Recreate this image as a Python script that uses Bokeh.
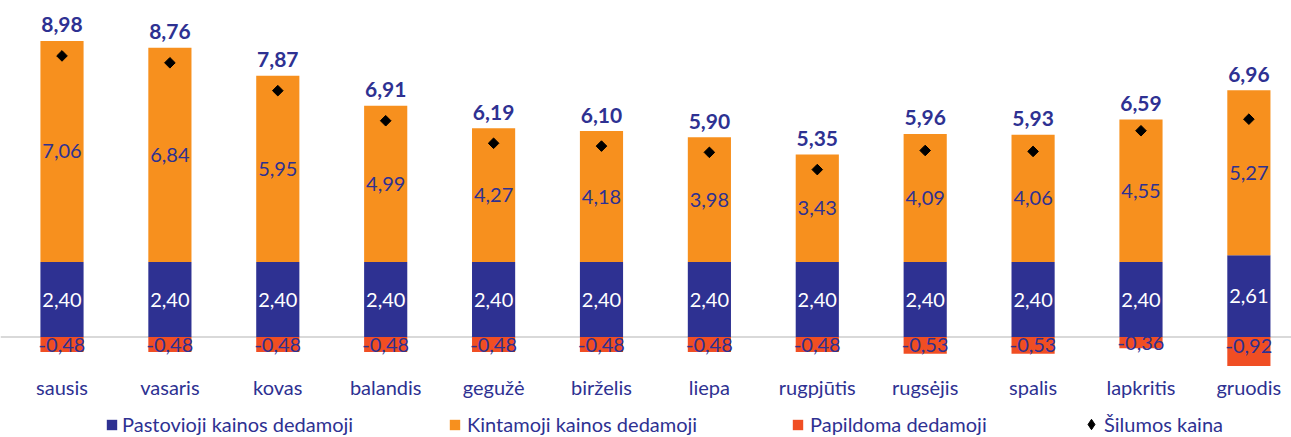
from bokeh.plotting import figure
from bokeh.models import (ColumnDataSource, Range1d, FixedTicker, Span, Legend, LegendItem)
from bokeh.layouts import column
from bokeh.core.properties import value
from bokeh.embed import file_html
from bokeh.resources import INLINE
import math

months = ["sausis", "vasaris", "kovas", "balandis", "gegužė", "birželis",
          "liepa", "rugpjūtis", "rugsėjis", "spalis", "lapkritis", "gruodis"]
pastovioji = [2.40, 2.40, 2.40, 2.40, 2.40, 2.40, 2.40, 2.40, 2.40, 2.40, 2.40, 2.61]
kintamoji = [7.06, 6.84, 5.95, 4.99, 4.27, 4.18, 3.98, 3.43, 4.09, 4.06, 4.55, 5.27]
papildoma = [-0.48, -0.48, -0.48, -0.48, -0.48, -0.48, -0.48, -0.48, -0.53, -0.53, -0.36, -0.92]
kaina = [8.98, 8.76, 7.87, 6.91, 6.19, 6.10, 5.90, 5.35, 5.96, 5.93, 6.59, 6.96]
series_names = ["Pastovioji kainos dedamoji", "Kintamoji kainos dedamoji",
                "Papildoma dedamoji", "Šilumos kaina"]

BLUE = "#2E3192"
ORANGE = "#F7901E"
RED = "#F04E23"
FONT = "Lato"

def fmt(v):
    return f"{v:.2f}".replace(".", ",")

x = list(range(len(months)))
top_stack = [a + b for a, b in zip(pastovioji, kintamoji)]
src = ColumnDataSource(dict(
    x=x,
    zero=[0.0] * len(x),
    past=pastovioji,
    kin_top=top_stack,
    pap=papildoma,
    kaina=kaina,
    past_mid=[v / 2 for v in pastovioji],
    kin_mid=[a + b / 2 for a, b in zip(pastovioji, kintamoji)],
    pap_mid=[max(v / 2, -0.3) for v in papildoma],
    past_lbl=[fmt(v) for v in pastovioji],
    kin_lbl=[fmt(v) for v in kintamoji],
    pap_lbl=[fmt(v) for v in papildoma],
    kaina_lbl=[fmt(v) for v in kaina],
))

W = 1291
H1 = 401
H2 = 437 - H1

p = figure(width=W, height=H1, output_backend="svg", toolbar_location=None,
           x_range=Range1d(-0.570, 11.395), y_range=Range1d(-1.003, 10.75),
           y_axis_location=None, min_border_left=0, min_border_right=0,
           min_border_top=0, min_border_bottom=H1 - 369)
p.outline_line_color = None
p.xgrid.visible = False
p.ygrid.visible = False

zero = Span(location=0, dimension="width", line_color="#D9D9D9", line_width=2, level="underlay")
p.add_layout(zero)

bw = 0.4
p.vbar(x="x", bottom="zero", top="past", width=bw, source=src,
       fill_color=BLUE, line_color=None)
p.vbar(x="x", bottom="past", top="kin_top", width=bw, source=src,
       fill_color=ORANGE, line_color=None)
p.vbar(x="x", bottom="zero", top="pap", width=bw, source=src,
       fill_color=RED, line_color=None)
p.scatter(x="x", y="kaina", source=src, marker="square", size=7.5,
          angle=math.pi / 4, fill_color="black", line_color="black")

p.text(x="x", y="past_mid", text="past_lbl", source=src, text_align="center",
       text_baseline="middle", text_color="white", text_font=value(FONT),
       text_font_size="20px")
p.text(x="x", y="kin_mid", text="kin_lbl", source=src, text_align="center",
       text_baseline="middle", text_color=BLUE, text_font=value(FONT),
       text_font_size="20px")
p.text(x="x", y="pap_mid", text="pap_lbl", source=src, text_align="center",
       text_baseline="middle", text_color=BLUE, text_font=value(FONT),
       text_font_size="20px")
p.text(x="x", y="kin_top", text="kaina_lbl", source=src, text_align="center",
       text_baseline="alphabetic", y_offset=-16, text_color=BLUE,
       text_font=value(FONT), text_font_size="21px", text_font_style="bold")

ax = p.xaxis[0]
ax.ticker = FixedTicker(ticks=x)
ax.major_label_overrides = {i: m for i, m in enumerate(months)}
ax.axis_line_color = None
ax.major_tick_line_color = None
ax.minor_tick_line_color = None
ax.major_label_text_font = FONT
ax.major_label_text_font_size = "20px"
ax.major_label_text_color = BLUE
ax.major_label_standoff = 0

# legend strip (renderers share the data but lie outside this strip's ranges)
p2 = figure(width=W, height=H2, output_backend="svg", toolbar_location=None,
            x_range=Range1d(-100, -99), y_range=Range1d(-100, -99),
            x_axis_location=None, y_axis_location=None,
            min_border_left=0, min_border_right=0, min_border_top=0, min_border_bottom=0)
p2.outline_line_color = None
p2.xgrid.visible = False
p2.ygrid.visible = False
l_past = p2.vbar(x="x", bottom="zero", top="past", width=bw, source=src,
                 fill_color=BLUE, line_color=None)
l_kin = p2.vbar(x="x", bottom="past", top="kin_top", width=bw, source=src,
                fill_color=ORANGE, line_color=None)
l_pap = p2.vbar(x="x", bottom="zero", top="pap", width=bw, source=src,
                fill_color=RED, line_color=None)
l_kaina = p2.scatter(x="x", y="kaina", source=src, marker="diamond", size=10,
                     fill_color="black", line_color="black")

# (label, renderer, left x, bottom y, glyph box size, label standoff)
legend_specs = [
    (series_names[0], l_past, 105, 1, 13, 4),
    (series_names[1], l_kin, 448, 1, 13, 6),
    (series_names[2], l_pap, 791, 1, 13, 6),
    (series_names[3], l_kaina, 1078, 0, 26, -2),
]
for label, rend, lx, ly, gsize, standoff in legend_specs:
    lg = Legend(items=[LegendItem(label=label, renderers=[rend], index=0)],
                location=(lx, ly), orientation="horizontal",
                glyph_width=gsize, glyph_height=gsize, label_standoff=standoff,
                label_text_font=FONT, label_text_font_size="20px",
                label_text_color=BLUE, border_line_color=None,
                background_fill_alpha=0, padding=0, margin=0, spacing=0,
                label_height=20)
    p2.add_layout(lg, "center")

layout = column(p, p2, spacing=0)
open("out.html", "w").write(file_html(layout, INLINE))
